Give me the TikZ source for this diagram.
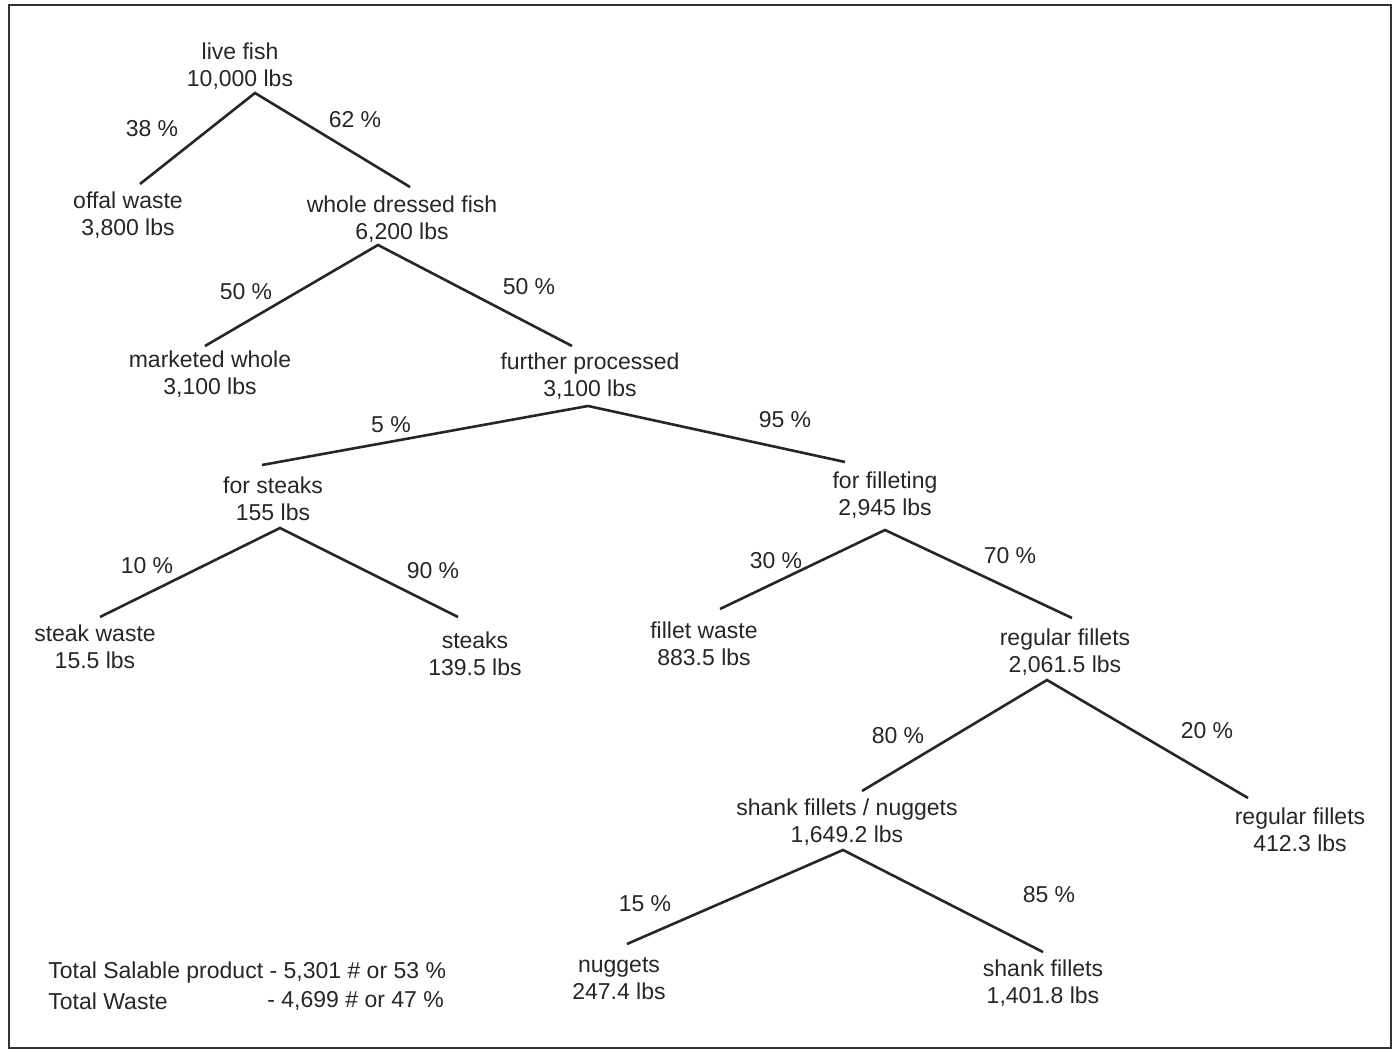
\documentclass[tikz,border=0pt]{standalone}
\usepackage{fontspec}
\setmainfont{Liberation Sans}
\begin{document}
\begin{tikzpicture}[x=0.5pt,y=-0.5pt,
  txt/.style={align=center,inner sep=0pt,font=\fontsize{11.5}{13.5}\selectfont,text=black!85},
  pct/.style={inner sep=0pt,font=\fontsize{11.5}{13.5}\selectfont,text=black!85},
  br/.style={line width=1.3pt,draw=black!85}]
\useasboundingbox (0,0) rectangle (1398,1052);
\draw[line width=1.1pt,black!80] (9,5) rectangle (1391,1048);
% nodes
\node[txt] (lf) at (240,66.5) {live fish\\10,000 lbs};
\node[txt] (ow) at (128,215.5) {offal waste\\3,800 lbs};
\node[txt] (wdf) at (402,219.5) {whole dressed fish\\6,200 lbs};
\node[txt] (mw) at (210,374.5) {marketed whole\\3,100 lbs};
\node[txt] (fp) at (590,376.5) {further processed\\3,100 lbs};
\node[txt] (fs) at (273,498.5) {for steaks\\155 lbs};
\node[txt] (ff) at (885,495.5) {for filleting\\2,945 lbs};
\node[txt] (sw) at (95,646.5) {steak waste\\15.5 lbs};
\node[txt] (st) at (475,653.5) {steaks\\139.5 lbs};
\node[txt] (fw) at (704,643.5) {fillet waste\\883.5 lbs};
\node[txt] (rf) at (1065,652.5) {regular fillets\\2,061.5 lbs};
\node[txt] (sfn) at (847,822.5) {shank fillets / nuggets\\1,649.2 lbs};
\node[txt] (rf2) at (1300,829.5) {regular fillets\\412.3 lbs};
\node[txt] (ng) at (619,979) {nuggets\\247.4 lbs};
\node[txt] (sf) at (1043,983) {shank fillets\\1,401.8 lbs};
% percentages
\node[pct] (p1) at (152,129) {38 \%};
\node[pct] (p2) at (355,120) {62 \%};
\node[pct] (p3) at (246,292) {50 \%};
\node[pct] (p4) at (529,287) {50 \%};
\node[pct] (p5) at (391,425) {5 \%};
\node[pct] (p6) at (785,420) {95 \%};
\node[pct] (p7) at (147,566) {10 \%};
\node[pct] (p8) at (433,571) {90 \%};
\node[pct] (p9) at (776,561) {30 \%};
\node[pct] (p10) at (1010,556) {70 \%};
\node[pct] (p11) at (898,736) {80 \%};
\node[pct] (p12) at (1207,731) {20 \%};
\node[pct] (p13) at (645,904) {15 \%};
\node[pct] (p14) at (1049,895) {85 \%};
% totals
\node[pct,anchor=west] (ts) at (48,973) {Total Salable product - 5,301 \# or 53 \%};
\node[pct,anchor=west] (tw) at (48,1001) {Total Waste};
\node[pct,anchor=west] (twv) at (267,1001) {- 4,699 \# or 47 \%};
% branch points
\coordinate (a1) at (255,93);   \coordinate (e1) at (140,184);  \coordinate (e2) at (410,187);
\coordinate (a2) at (378,245);  \coordinate (e3) at (205,346);  \coordinate (e4) at (572,346);
\coordinate (a3) at (588,406);  \coordinate (e5) at (262,465);  \coordinate (e6) at (845,462);
\coordinate (a4) at (280,528);  \coordinate (e7) at (100,617);  \coordinate (e8) at (458,617);
\coordinate (a5) at (885,530);  \coordinate (e9) at (720,609);  \coordinate (e10) at (1072,618);
\coordinate (a6) at (1047,680); \coordinate (e11) at (862,791); \coordinate (e12) at (1248,798);
\coordinate (a7) at (843,850);  \coordinate (e13) at (627,944); \coordinate (e14) at (1043,952);
% branches
\draw[br] (e1) -- (a1) -- (e2);
\draw[br] (e3) -- (a2) -- (e4);
\draw[br] (e5) -- (a3) -- (e6);
\draw[br] (e7) -- (a4) -- (e8);
\draw[br] (e9) -- (a5) -- (e10);
\draw[br] (e11) -- (a6) -- (e12);
\draw[br] (e13) -- (a7) -- (e14);
\end{tikzpicture}
\end{document}
